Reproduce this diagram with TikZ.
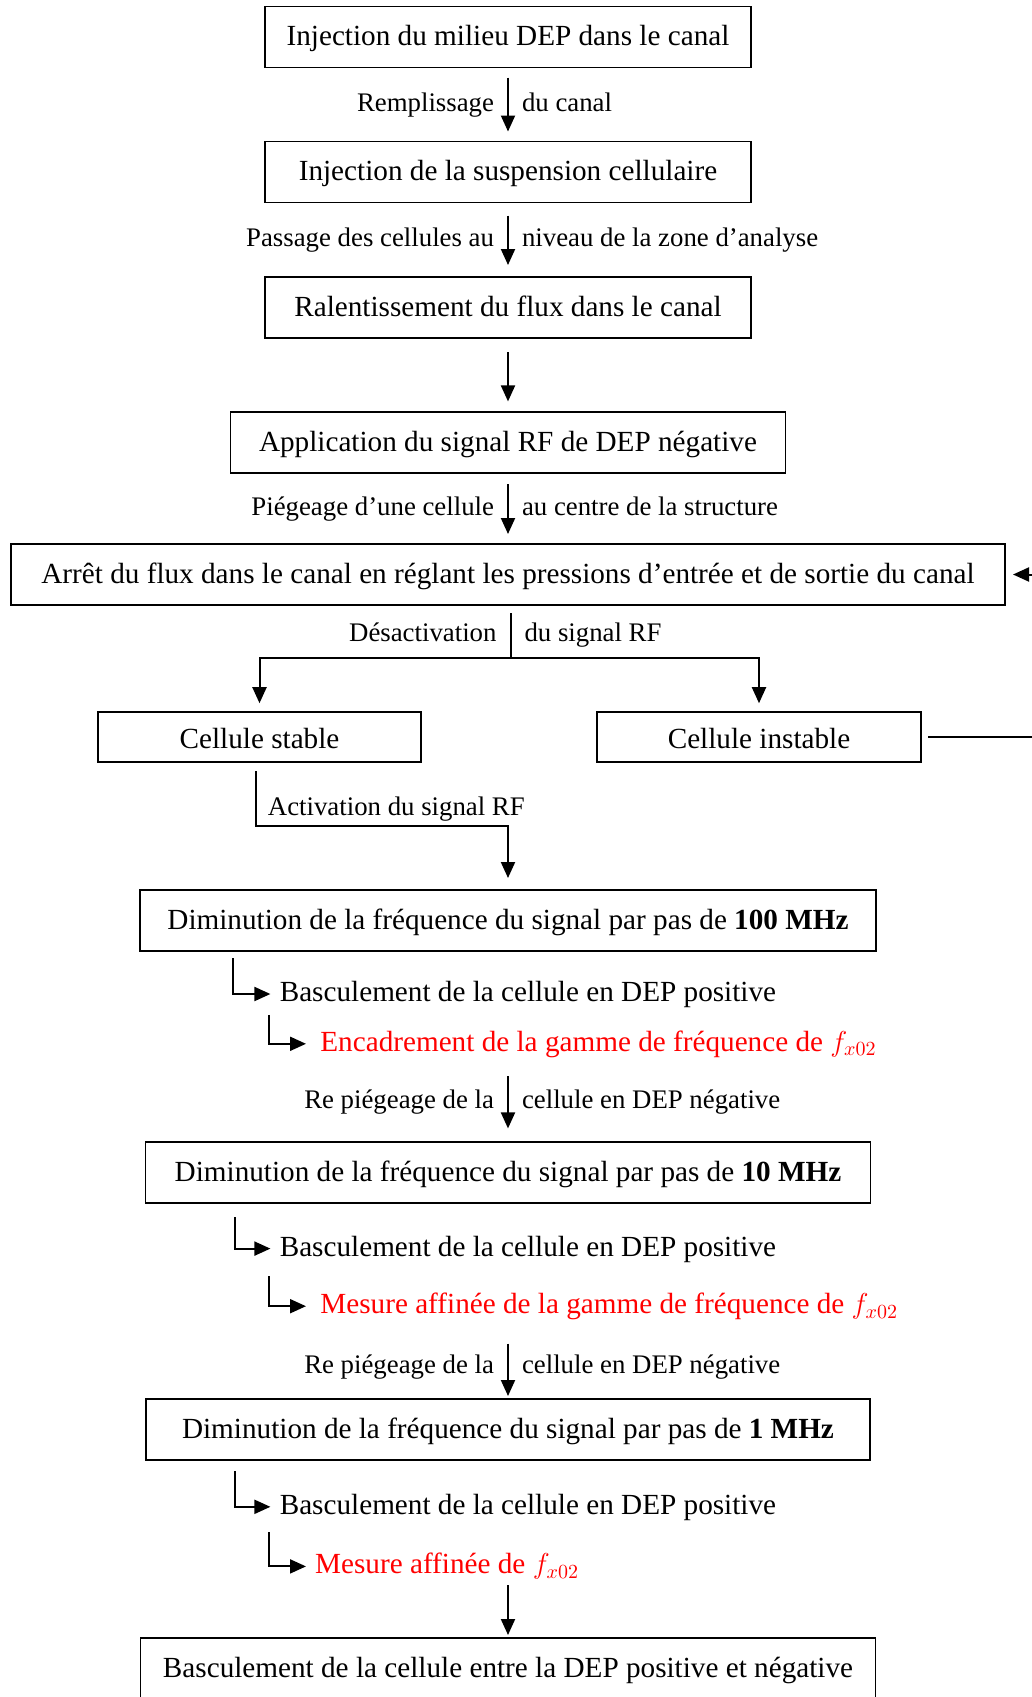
\documentclass[tikz,border=0pt]{standalone}
\usepackage{fontspec}
\setmainfont{Liberation Serif}
\usepackage{xcolor}
\usepackage{tikz}
\usetikzlibrary{arrows.meta,positioning}
\definecolor{markred}{RGB}{255,0,0}
\tikzset{
  stepbox/.style={
    draw=black,
    line width=0.65pt,
    outer sep=0pt,
    align=center,
    minimum height=30.5pt,
    inner xsep=4pt,
    text height=11.5pt,
    text depth=3pt,
    font=\fontsize{14.6}{17}\selectfont
  },
  cellbox/.style={stepbox, minimum height=25pt, text height=14pt},
  stepnote/.style={
    anchor=west,
    inner xsep=4.5pt,
    inner ysep=1.5pt,
    text height=10.5pt,
    text depth=3pt,
    font=\fontsize{14.6}{17}\selectfont
  },
  stepresult/.style={stepnote, inner xsep=7pt, text=markred},
  steplabel/.style={
    inner xsep=6.5pt,
    inner ysep=1pt,
    text height=9.5pt,
    text depth=2.8pt,
    font=\fontsize{13.4}{16}\selectfont
  },
  stepline/.style={line width=1pt, draw=black},
  steparrow/.style={stepline, -{Triangle[width=7pt,length=8pt]}}
}

\begin{document}
\begin{tikzpicture}
    \useasboundingbox (0,0) rectangle (516pt,-848.5pt);
    \coordinate (loopedge) at (520pt,0);

    \node[stepbox, minimum width=243pt] (inj) at (254pt,-18.5pt) {Injection du milieu DEP dans le canal};
    \node[stepbox, minimum width=243pt, below=37pt of inj] (susp) {Injection de la suspension cellulaire};
    \node[stepbox, minimum width=243pt, below=37.25pt of susp] (slow) {Ralentissement du flux dans le canal};
    \node[stepbox, minimum width=277.5pt, below=37pt of slow] (rfneg) {Application du signal RF de DEP négative};
    \node[stepbox, minimum width=497pt, below=35.5pt of rfneg] (stop) {Arrêt du flux dans le canal en réglant les pressions d’entrée et de sortie du canal};

    \node[cellbox, minimum width=161.5pt, below=53.5pt of stop, xshift=-124.25pt] (stable) {Cellule stable};
    \node[cellbox, minimum width=162pt, below=53.5pt of stop, xshift=125.5pt] (unstable) {Cellule instable};

    \node[stepbox, minimum width=368pt, below=142.5pt of stop] (dimA) {Diminution de la fréquence du signal par pas de \textbf{100 MHz}};
    \node[stepnote] (flipA) at ([xshift=65.2pt,yshift=-21.5pt]dimA.south west) {Basculement de la cellule en DEP positive};
    \node[stepresult] (freqA) at ([xshift=17.8pt,yshift=-24.9pt]flipA.west) {Encadrement de la gamme de fréquence de $f_{x02}$};

    \node[stepbox, minimum width=362.5pt, below=95.5pt of dimA] (dimB) {Diminution de la fréquence du signal par pas de \textbf{10 MHz}};
    \node[stepnote] (flipB) at ([xshift=62.45pt,yshift=-22.8pt]dimB.south west) {Basculement de la cellule en DEP positive};
    \node[stepresult] (freqB) at ([xshift=17.8pt,yshift=-28.8pt]flipB.west) {Mesure affinée de la gamme de fréquence de $f_{x02}$};

    \node[stepbox, minimum width=362pt, below=98pt of dimB] (dimC) {Diminution de la fréquence du signal par pas de \textbf{1 MHz}};
    \node[stepnote] (flipC) at ([xshift=62.2pt,yshift=-23.4pt]dimC.south west) {Basculement de la cellule en DEP positive};
    \node[stepresult, inner xsep=4.4pt] (freqC) at ([xshift=17.8pt,yshift=-29.8pt]flipC.west) {Mesure affinée de $f_{x02}$};

    \node[stepbox, minimum width=367.5pt, below=89pt of dimC] (toggle) {Basculement de la cellule entre la DEP positive et négative};

    \draw[steparrow, shorten <=5pt, shorten >=5pt] (inj) -- (susp)
      node[steplabel, midway, left] {Remplissage}
      node[steplabel, midway, right] {du canal};
    \draw[steparrow, shorten <=6.5pt, shorten >=6pt] (susp) -- (slow)
      node[steplabel, midway, left] {Passage des cellules au}
      node[steplabel, midway, right] {niveau de la zone d’analyse};
    \draw[steparrow, shorten <=7pt, shorten >=5.3pt] (slow) -- (rfneg);
    \draw[steparrow, shorten <=5.5pt, shorten >=5pt] (rfneg) -- (stop)
      node[steplabel, midway, left] {Piégeage d’une cellule}
      node[steplabel, midway, right] {au centre de la structure};

    \coordinate (split) at ([xshift=1.25pt,yshift=-26.4pt]stop.south);
    \draw[stepline, shorten <=4.2pt] ([xshift=1.25pt]stop.south) -- (split)
      node[steplabel, pos=0.57, left] {Désactivation}
      node[steplabel, pos=0.57, right] {du signal RF};
    \draw[steparrow, shorten >=4.4pt] (split) -| (stable.north);
    \draw[steparrow, shorten >=4.4pt] (split) -| (unstable.north);

    \draw[stepline, shorten <=3.5pt] (unstable.east) -- (unstable.east -| loopedge);
    \draw[steparrow, shorten >=4pt] (stop.east -| loopedge) -- (stop.east);

    \coordinate (actbend) at ([xshift=-2pt,yshift=-32.2pt]stable.south);
    \node[steplabel, anchor=west, inner xsep=6pt] (actlabel) at ([yshift=8.6pt]actbend) {Activation du signal RF};
    \draw[steparrow, shorten <=4.6pt, shorten >=6pt] ([xshift=-2pt]stable.south) -- (actbend) -| (dimA.north);

    \draw[steparrow, shorten <=3.7pt] ([xshift=-18.9pt]flipA.west |- dimA.south) |- (flipA.west);
    \draw[steparrow] ([xshift=-0.5pt,yshift=-2pt]flipA.south west) |- (freqA.west);
    \draw[steparrow, shorten <=7.8pt, shorten >=6.8pt] (dimB.north |- freqA.south) -- (dimB.north)
      node[steplabel, pos=0.5, left] {Re piégeage de la}
      node[steplabel, pos=0.5, right] {cellule en DEP négative};

    \draw[steparrow, shorten <=7pt] ([xshift=-17.8pt]flipB.west |- dimB.south) |- (flipB.west);
    \draw[steparrow] ([xshift=-0.5pt,yshift=-5.25pt]flipB.south west) |- (freqB.west);
    \draw[steparrow, shorten <=10.3pt, shorten >=1.5pt] (dimC.north |- freqB.south) -- (dimC.north)
      node[steplabel, pos=0.58, left] {Re piégeage de la}
      node[steplabel, pos=0.58, right] {cellule en DEP négative};

    \draw[steparrow, shorten <=5.6pt] ([xshift=-17.8pt]flipC.west |- dimC.south) |- (flipC.west);
    \draw[steparrow] ([xshift=-0.5pt,yshift=-4.25pt]flipC.south west) |- (freqC.west);
    \draw[steparrow, shorten <=1pt, shorten >=1.5pt] (toggle.north |- freqC.south) -- (toggle.north);
  \end{tikzpicture}
\end{document}
